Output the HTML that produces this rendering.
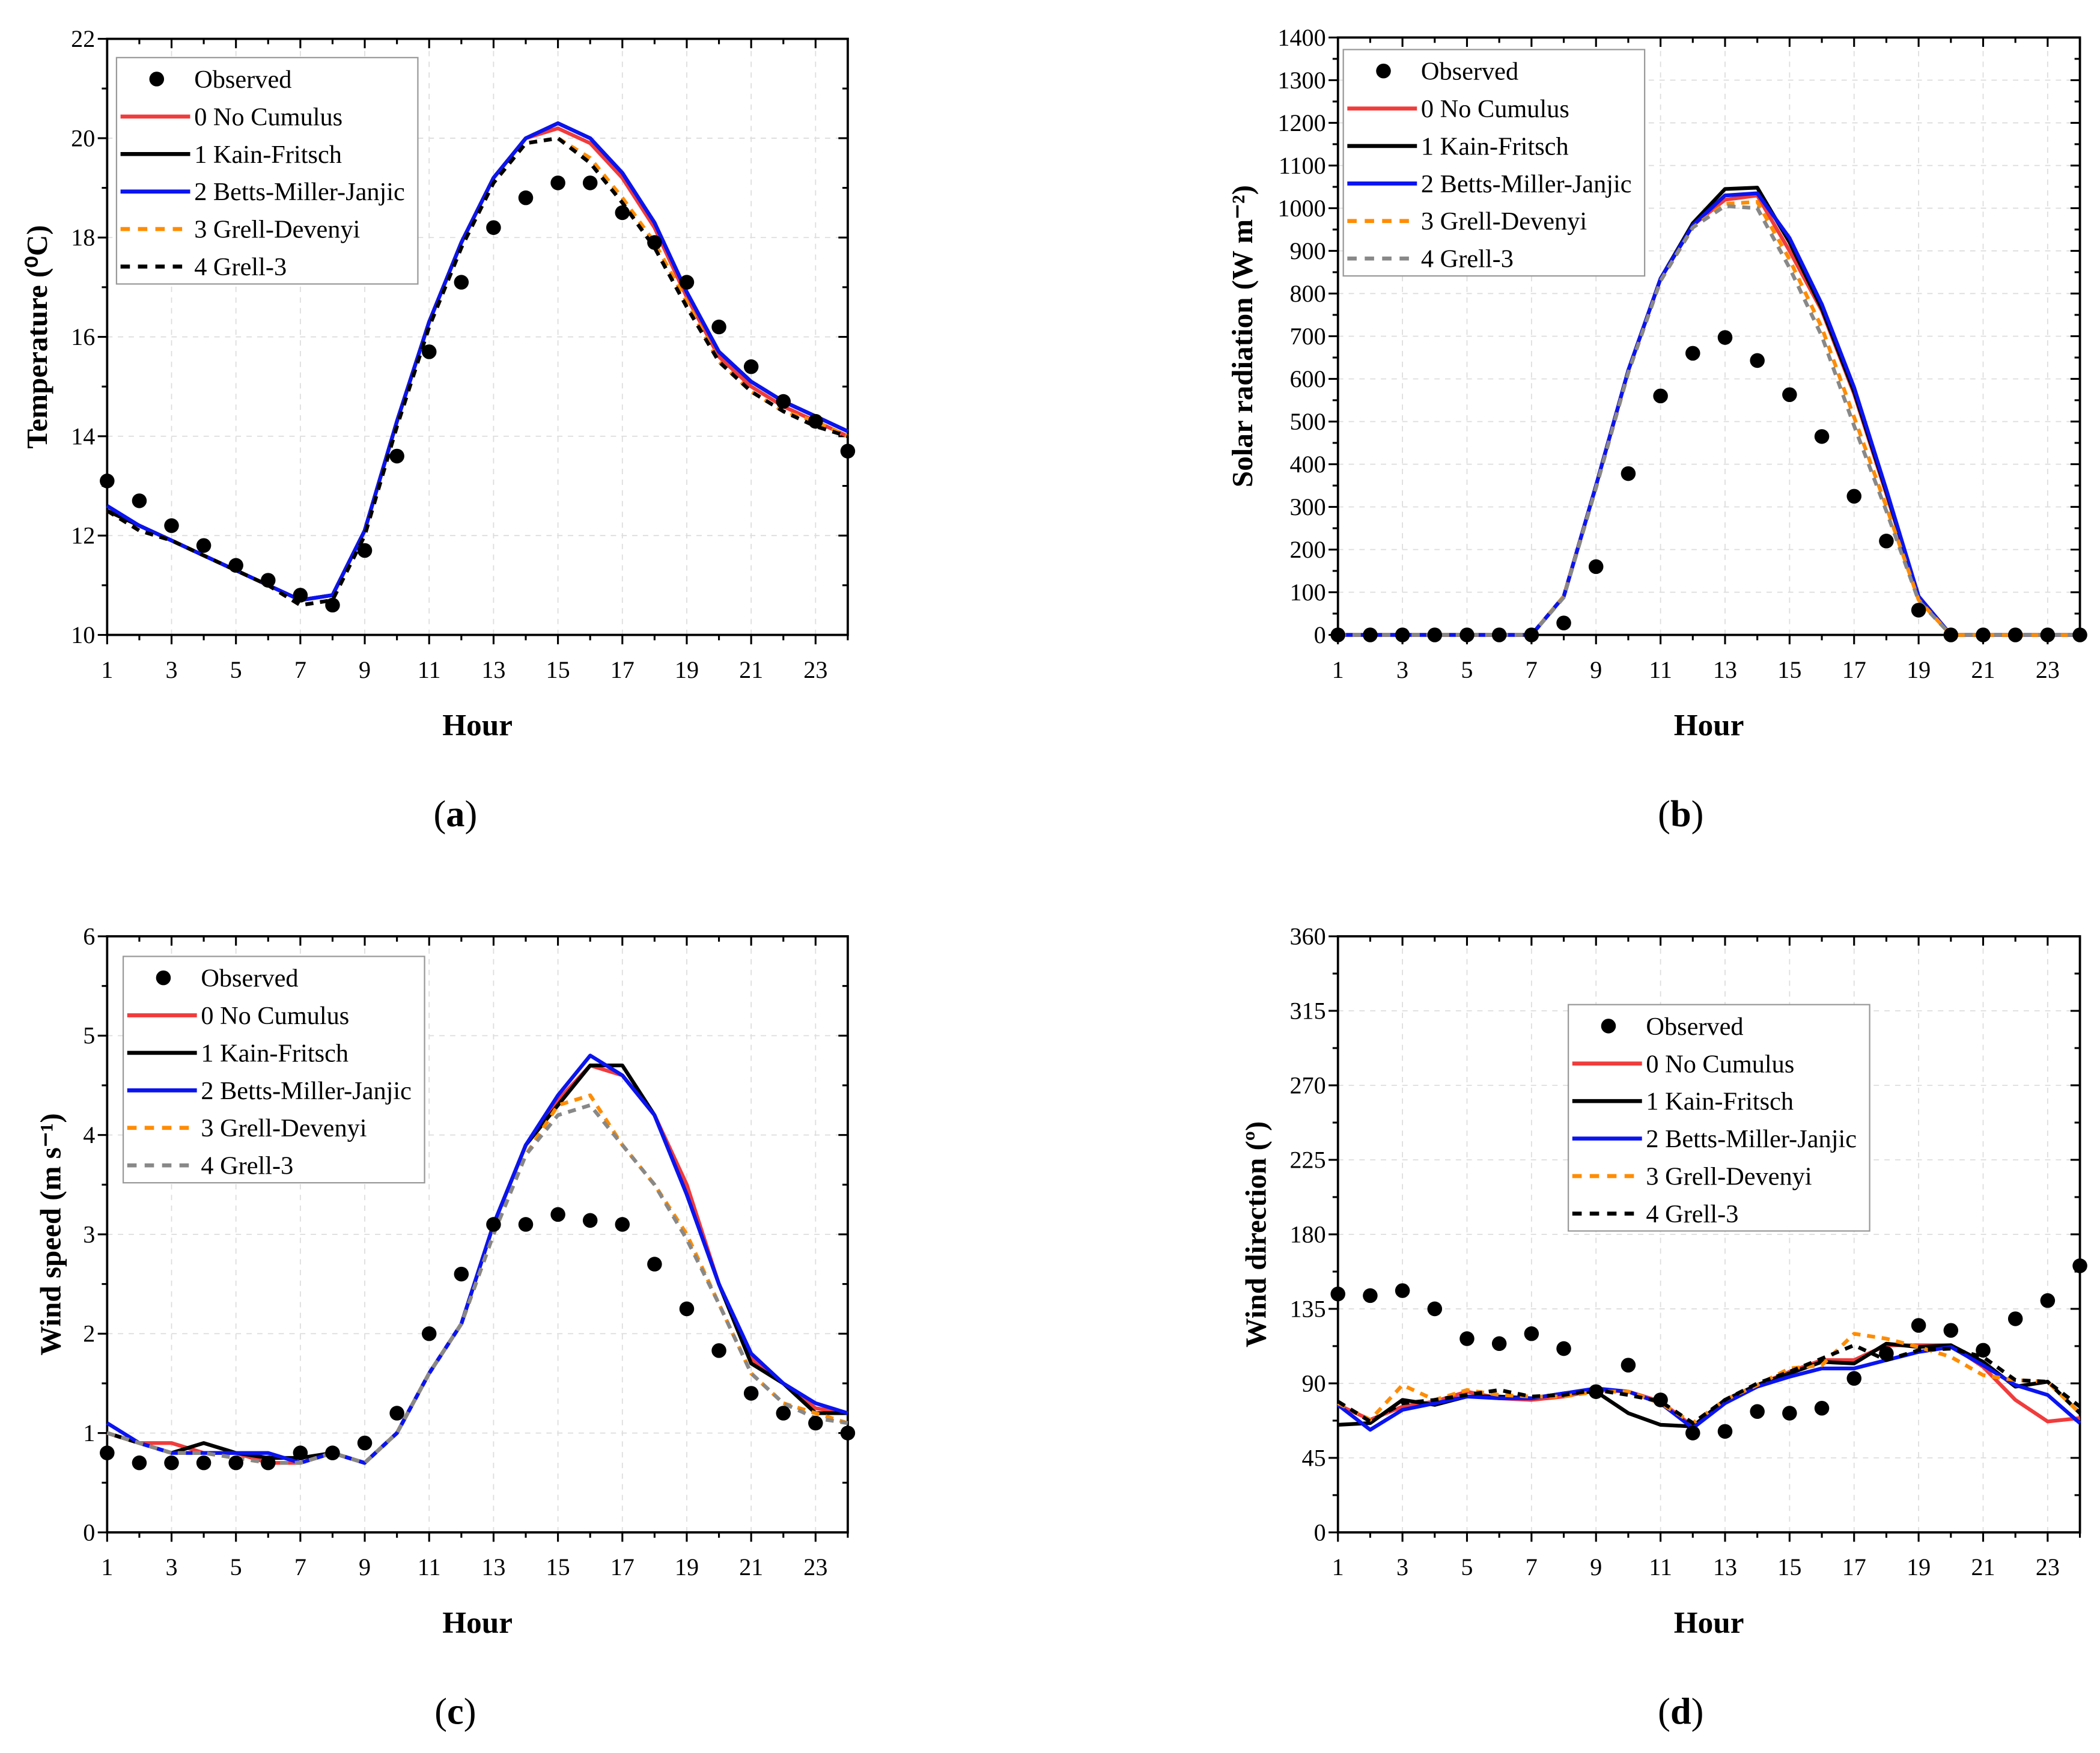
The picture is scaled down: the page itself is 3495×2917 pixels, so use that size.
<!DOCTYPE html>
<html><head><meta charset="utf-8">
<style>html,body{margin:0;padding:0;background:#fff}svg{display:block}</style>
</head><body>
<svg id="fig" width="3495" height="2917" viewBox="0 0 1568 1308.7" preserveAspectRatio="none" xmlns="http://www.w3.org/2000/svg" font-family="'Liberation Serif', serif"></svg>
<script>
const hours = [1,2,3,4,5,6,7,8,9,10,11,12,13,14,15,16,17,18,19,20,21,22,23,24];
const xTickLabels = [1,3,5,7,9,11,13,15,17,19,21,23];
const seriesNames = ["0 No Cumulus","1 Kain-Fritsch","2 Betts-Miller-Janjic","3 Grell-Devenyi","4 Grell-3"];

const tObs = [13.1,12.7,12.2,11.8,11.4,11.1,10.8,10.6,11.7,13.6,15.7,17.1,18.2,18.8,19.1,19.1,18.5,17.9,17.1,16.2,15.4,14.7,14.3,13.7];
const tNC  = [12.5,12.2,11.9,11.6,11.3,11.0,10.7,10.8,12.1,14.3,16.3,17.9,19.2,20.0,20.2,19.9,19.2,18.2,16.8,15.6,15.0,14.6,14.3,14.0];
const tKF  = [12.5,12.2,11.9,11.6,11.3,11.0,10.7,10.8,12.1,14.3,16.3,17.9,19.2,20.0,20.3,20.0,19.3,18.3,16.9,15.7,15.1,14.7,14.4,14.1];
const tBMJ = [12.6,12.2,11.9,11.6,11.3,11.0,10.7,10.8,12.1,14.3,16.3,17.9,19.2,20.0,20.3,20.0,19.3,18.3,16.9,15.7,15.1,14.7,14.4,14.1];
const tGD  = [12.5,12.1,11.9,11.6,11.3,11.0,10.6,10.7,12.0,14.2,16.2,17.8,19.1,19.9,20.0,19.6,18.8,17.9,16.7,15.5,14.9,14.5,14.3,14.0];
const tG3  = [12.5,12.1,11.9,11.6,11.3,11.0,10.6,10.7,12.0,14.2,16.2,17.8,19.1,19.9,20.0,19.5,18.7,17.8,16.6,15.5,14.9,14.5,14.2,14.0];
const tTicks = [10,12,14,16,18,20,22];

const sObs = [0,0,0,0,0,0,0,28,160,378,560,660,697,643,563,465,325,220,58,0,0,0,0,0];
const sNC  = [0,0,0,0,0,0,0,90,350,620,835,960,1020,1030,900,760,565,330,88,0,0,0,0,0];
const sKF  = [0,0,0,0,0,0,0,90,350,620,835,965,1045,1048,920,765,570,335,90,0,0,0,0,0];
const sBMJ = [0,0,0,0,0,0,0,90,350,620,835,960,1030,1035,930,775,580,340,90,0,0,0,0,0];
const sGD  = [0,0,0,0,0,0,0,90,345,615,830,955,1010,1015,880,720,510,300,82,0,0,0,0,0];
const sG3  = [0,0,0,0,0,0,0,88,345,615,830,955,1005,1000,860,700,490,290,80,0,0,0,0,0];
const sTicks = [0,100,200,300,400,500,600,700,800,900,1000,1100,1200,1300,1400];

const wObs = [0.8,0.7,0.7,0.7,0.7,0.7,0.8,0.8,0.9,1.2,2.0,2.6,3.1,3.1,3.2,3.14,3.1,2.7,2.25,1.83,1.4,1.2,1.1,1.0];
const wNC  = [1.0,0.9,0.9,0.8,0.8,0.7,0.7,0.8,0.7,1.0,1.6,2.1,3.1,3.9,4.35,4.7,4.6,4.2,3.5,2.5,1.75,1.5,1.25,1.2];
const wKF  = [1.0,0.9,0.8,0.9,0.8,0.75,0.75,0.8,0.7,1.0,1.6,2.1,3.1,3.9,4.3,4.7,4.7,4.2,3.4,2.5,1.7,1.5,1.2,1.2];
const wBMJ = [1.1,0.9,0.8,0.8,0.8,0.8,0.7,0.8,0.7,1.0,1.6,2.1,3.1,3.9,4.4,4.8,4.6,4.2,3.4,2.5,1.8,1.5,1.3,1.2];
const wGD  = [1.0,0.9,0.8,0.8,0.75,0.7,0.7,0.8,0.7,1.0,1.6,2.1,3.0,3.8,4.3,4.4,3.9,3.5,3.0,2.3,1.6,1.3,1.2,1.1];
const wG3  = [1.0,0.9,0.8,0.8,0.75,0.7,0.7,0.8,0.7,1.0,1.6,2.1,3.0,3.8,4.2,4.3,3.9,3.5,2.95,2.3,1.6,1.3,1.15,1.1];
const wTicks = [0,1,2,3,4,5,6];

const dObs = [144,143,146,135,117,114,120,111,85,101,80,60,61,73,72,75,93,108,125,122,110,129,140,161];
const dNC  = [77,68,76,79,85,81,80,82,86,85,79,64,80,89,97,104,104,113,113,113,100,80,67,69];
const dKF  = [65,66,80,77,82,82,81,84,85,72,65,64,80,89,96,103,102,114,112,113,103,88,91,72];
const dBMJ = [77,62,74,78,82,81,81,84,87,85,78,63,78,88,94,99,99,104,109,112,101,89,83,66];
const dGD  = [78,68,89,80,86,83,82,82,85,85,78,66,80,89,99,101,120,117,112,106,95,92,91,72];
const dG3  = [79,67,78,80,83,86,82,83,86,83,79,66,80,90,97,105,113,104,110,111,106,92,91,76];
const dTicks = [0,45,90,135,180,225,270,315,360];

const NS = "http://www.w3.org/2000/svg";
const svg = document.getElementById('fig');
function mk(tag, attrs, parent){const e=document.createElementNS(NS,tag);for(const k in attrs)e.setAttribute(k,attrs[k]);(parent||svg).appendChild(e);return e;}

const panels = [
 {id:'a',x0:80,x1:633,y0:474,y1:29,min:10,max:22,ticks:tTicks,minor:1,obs:tObs,ser:[tNC,tKF,tBMJ,tGD,tG3],g3:'#000',title:'Temperature (⁰C)',leg:[87,43],tx:28,lab:[340,608]},
 {id:'b',x0:999,x1:1553,y0:474,y1:28,min:0,max:1400,ticks:sTicks,minor:50,obs:sObs,ser:[sNC,sKF,sBMJ,sGD,sG3],g3:'#888',title:'Solar radiation (W m⁻²)',leg:[1003,37],tx:928,lab:[1255,608]},
 {id:'c',x0:80,x1:633,y0:1144,y1:699,min:0,max:6,ticks:wTicks,minor:0.5,obs:wObs,ser:[wNC,wKF,wBMJ,wGD,wG3],g3:'#888',title:'Wind speed (m s⁻¹)',leg:[92,714],tx:38,lab:[340,1278]},
 {id:'d',x0:999,x1:1553,y0:1144,y1:699,min:0,max:360,ticks:dTicks,minor:22.5,obs:dObs,ser:[dNC,dKF,dBMJ,dGD,dG3],g3:'#000',title:'Wind direction (º)',leg:[1171,750],tx:938,lab:[1255,1278]}
];
const colors = ['#f03c3c','#000','#0a14f0','#ff8c00'];

panels.forEach(p=>{
  const g = mk('g',{});
  
  
  const X = h => p.x0 + (h-1)/23*(p.x1-p.x0);
  const Y = v => p.y0 - (v-p.min)/(p.max-p.min)*(p.y0-p.y1);
  xTickLabels.forEach(h=>{ if(h>1){const l=mk('line',{x1:X(h),x2:X(h),y1:p.y0,y2:p.y1,stroke:'#ddd','stroke-width':0.8,'stroke-dasharray':'4,4'},g);
     }});
  p.ticks.forEach(v=>{ if(v>p.min&&v<p.max){const l=mk('line',{x1:p.x0,x2:p.x1,y1:Y(v),y2:Y(v),stroke:'#ddd','stroke-width':0.8,'stroke-dasharray':'4,4'},g);
     }});
  const fr = mk('rect',{x:p.x0,y:p.y1,width:p.x1-p.x0,height:p.y0-p.y1,fill:'none',stroke:'#000','stroke-width':1.7},g);
   
  hours.forEach(h=>{const len = (h%2===1)?7:4;
    mk('line',{x1:X(h),x2:X(h),y1:p.y0,y2:p.y0+len,stroke:'#000','stroke-width':1.4},g);
    mk('line',{x1:X(h),x2:X(h),y1:p.y1,y2:p.y1+len,stroke:'#000','stroke-width':1.4},g);});
  xTickLabels.forEach(h=>{const t=mk('text',{x:X(h),y:p.y0+32,'font-size':18,'text-anchor':'middle'},g);t.textContent=h;
     });
  for(let v=p.min; v<=p.max+1e-9; v+=p.minor){
    const major = p.ticks.some(t=>Math.abs(t-v)<1e-9); const len = major?7:4;
    mk('line',{x1:p.x0-len,x2:p.x0,y1:Y(v),y2:Y(v),stroke:'#000','stroke-width':1.4},g);
    mk('line',{x1:p.x1-len,x2:p.x1,y1:Y(v),y2:Y(v),stroke:'#000','stroke-width':1.4},g);
  }
  p.ticks.forEach(v=>{const t=mk('text',{x:p.x0-9,y:Y(v)+6,'font-size':18,'text-anchor':'end'},g);t.textContent=v;
     });
  const xt=mk('text',{x:(p.x0+p.x1)/2,y:p.y0+75,'font-size':23,'font-weight':'bold','text-anchor':'middle'},g);xt.textContent='Hour';
   
  const yc=(p.y0+p.y1)/2;
  const yt=mk('text',{x:p.tx,y:yc,'font-size':22,'font-weight':'bold','text-anchor':'middle',transform:`rotate(-90 ${p.tx} ${yc})`,dy:7},g);yt.textContent=p.title;
   
  const pl=mk('text',{x:p.lab[0],y:p.lab[1]+9,'font-size':28,'text-anchor':'middle'},g);
  pl.innerHTML='(<tspan font-weight="bold">'+p.id+'</tspan>)';
   
  const cols=[colors[0],colors[1],colors[2],colors[3],p.g3];
  const dashes=[null,null,null,'6,5','6,5'];
  [0,1,2,3,4].forEach(i=>{
    const pts=p.ser[i].map((v,k)=>X(hours[k]).toFixed(1)+','+Y(v).toFixed(1)).join(' ');
    const a={points:pts,fill:'none',stroke:cols[i],'stroke-width':2.8,'stroke-linejoin':'round'};
    if(dashes[i]) a['stroke-dasharray']=dashes[i];
    const pl2=mk('polyline',a,g);
    
    
  });
  p.obs.forEach((v,k)=>{const c=mk('circle',{cx:X(hours[k]),cy:Y(v),r:5.5,fill:'#000'},g);
     });
  const lg=mk('g',{},g);
  
  
  const [lx,ly]=p.leg;
  mk('rect',{x:lx,y:ly,width:225,height:169,fill:'#fff',stroke:'#999','stroke-width':1},lg);
  mk('circle',{cx:lx+30,cy:ly+16,r:5.5,fill:'#000'},lg);
  const t0=mk('text',{x:lx+58,y:ly+22.5,'font-size':19},lg);t0.textContent='Observed';
   
  seriesNames.forEach((n,i)=>{const yy=ly+16+28*(i+1);
    const a={x1:lx+3,x2:lx+55,y1:yy,y2:yy,stroke:cols[i],'stroke-width':3};
    if(dashes[i]) a['stroke-dasharray']='7,6';
    mk('line',a,lg);
    const t=mk('text',{x:lx+58,y:yy+6.5,'font-size':19},lg);t.textContent=n;
     });
});
</script>
</body></html>
